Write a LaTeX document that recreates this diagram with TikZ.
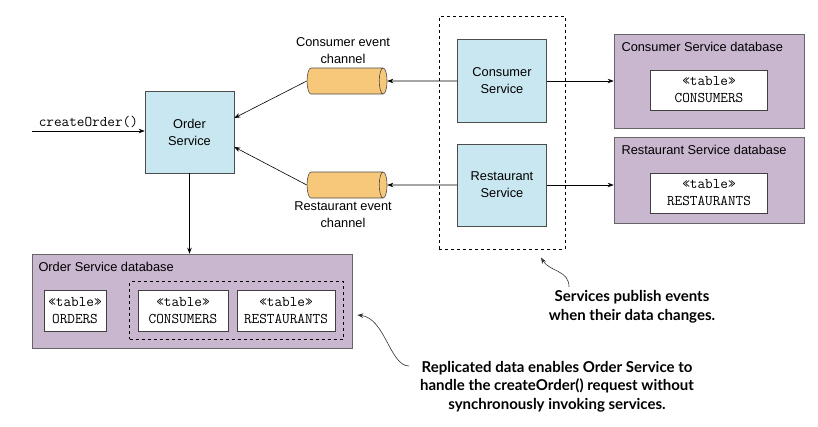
\documentclass[tikz,border=0pt]{standalone}
\usepackage{fontspec}
\setmainfont{Liberation Sans}
\newfontfamily\notefont{Lato}
\usetikzlibrary{shapes.geometric,fit,arrows.meta}

\definecolor{svcblue}{RGB}{201,231,240}
\definecolor{dbpurple}{RGB}{201,182,207}
\definecolor{chanorange}{RGB}{248,200,122}

\tikzset{
  svc/.style={draw=black!70,fill=svcblue,minimum width=89pt,minimum height=82pt,
    align=center,font=\fontsize{12.8}{17}\selectfont},
  chan/.style={cylinder,draw=black!70,fill=chanorange,minimum width=26pt,
    minimum height=80pt,shape aspect=0.3,inner xsep=0pt,inner ysep=13pt},
  db/.style={draw=black!60,fill=dbpurple},
  dbname/.style={anchor=north west,inner sep=0pt,font=\fontsize{12.8}{17}\selectfont},
  tbl/.style={draw=black!75,fill=white,align=center,minimum height=41pt,
    font=\ttfamily\fontsize{14.8}{17}\selectfont},
  lbl/.style={align=center,font=\fontsize{12.8}{17}\selectfont},
  note/.style={align=center,font=\notefont\bfseries\fontsize{15}{18.5}\selectfont}
}

\begin{document}
\begin{tikzpicture}[x=1pt,y=-1pt,node distance=0pt,line width=0.6pt,>={Stealth[length=6pt,width=4.5pt]}]
      \useasboundingbox (0,0) rectangle (818,426);

      \node[svc] (1) at (189.5,132) {Order\\Service};
      \node[svc,right of=1,xshift=312.5pt,yshift=51pt,minimum height=83pt] (2) {Consumer\\Service};
      \node[svc,below of=2,yshift=-104pt] (3) {Restaurant\\Service};
      \node[chan,left of=2,xshift=-159pt,
        label={[lbl]above:Consumer event\\channel}] (4) {};
      \node[chan,left of=3,xshift=-159pt,
        label={[lbl]below:Restaurant event\\channel}] (5) {};
      \node[draw,dashed,fit=(2) (3),inner xsep=18pt,inner ysep=23pt] (15) {};

      % databases of the two services
      \node[db,right of=2,xshift=207pt,minimum width=190pt,minimum height=94pt] (6) {};
      \node[db,right of=3,xshift=207pt,yshift=5pt,minimum width=190pt,minimum height=86pt] (7) {};
      \node[dbname] at ([xshift=7.5pt,yshift=-8.5pt]6.north west) {Consumer Service database};
      \node[dbname] at ([xshift=7.5pt,yshift=-8.5pt]7.north west) {Restaurant Service database};
      \node[tbl,below of=6,yshift=-9pt,minimum width=117pt,minimum height=40pt] (8) {«table»\\CONSUMERS};
      \node[tbl,below of=7,yshift=-13pt,minimum width=117pt,minimum height=40pt] (9) {«table»\\RESTAURANTS};

      % database of Order Service
      \node[db,minimum width=320pt,minimum height=94pt] (10) at (192,301) {};
      \node[dbname] at ([xshift=6.5pt,yshift=-8.5pt]10.north west) {Order Service database};
      \node[tbl,minimum width=62pt] (11) at (75,310.5) {«table»\\ORDERS};
      \node[tbl,minimum width=90pt] (12) at (183,310.5) {«table»\\CONSUMERS};
      \node[tbl,minimum width=98pt] (13) at (286,310.5) {«table»\\RESTAURANTS};
      \node[draw,dashed,fit=(12) (13),inner sep=8pt] (14) {};

      \node[note] (16) at (632,307) {Services publish events\\when their data changes.};
      \node[note] (17) at (557,386.5) {Replicated data enables Order Service to\\handle the createOrder() request without\\synchronously invoking services.};

      \coordinate (0) at (32,131);
      \coordinate (s1) at (569,287);
      \coordinate (s2) at (409,366);

      \draw[->] (0) -- node[above,font=\ttfamily\fontsize{14.8}{16}\selectfont] {createOrder()} (0 -| 1.west);
      \draw[->] (4.west) -- ([yshift=14pt]1.east);
      \draw[->] (5.west) -- ([yshift=-15pt]1.east);
      \draw[->] (2) -- (4);
      \draw[->] (3) -- (5);
      \draw[->] (2) -- (2 -| 6.west);
      \draw[->] (3) -- (3 -| 7.west);
      \draw[->] (1) -- (1 |- 10.north);

      \draw[->,black!80] (s1) .. controls (569,270) and (550,272) .. ([xshift=39pt,yshift=-8pt]15.south);
      \draw[->,black!80] (s2) .. controls (390,366) and (385,318) .. ([xshift=5pt,yshift=-14pt]10.east);
    \end{tikzpicture}
\end{document}
